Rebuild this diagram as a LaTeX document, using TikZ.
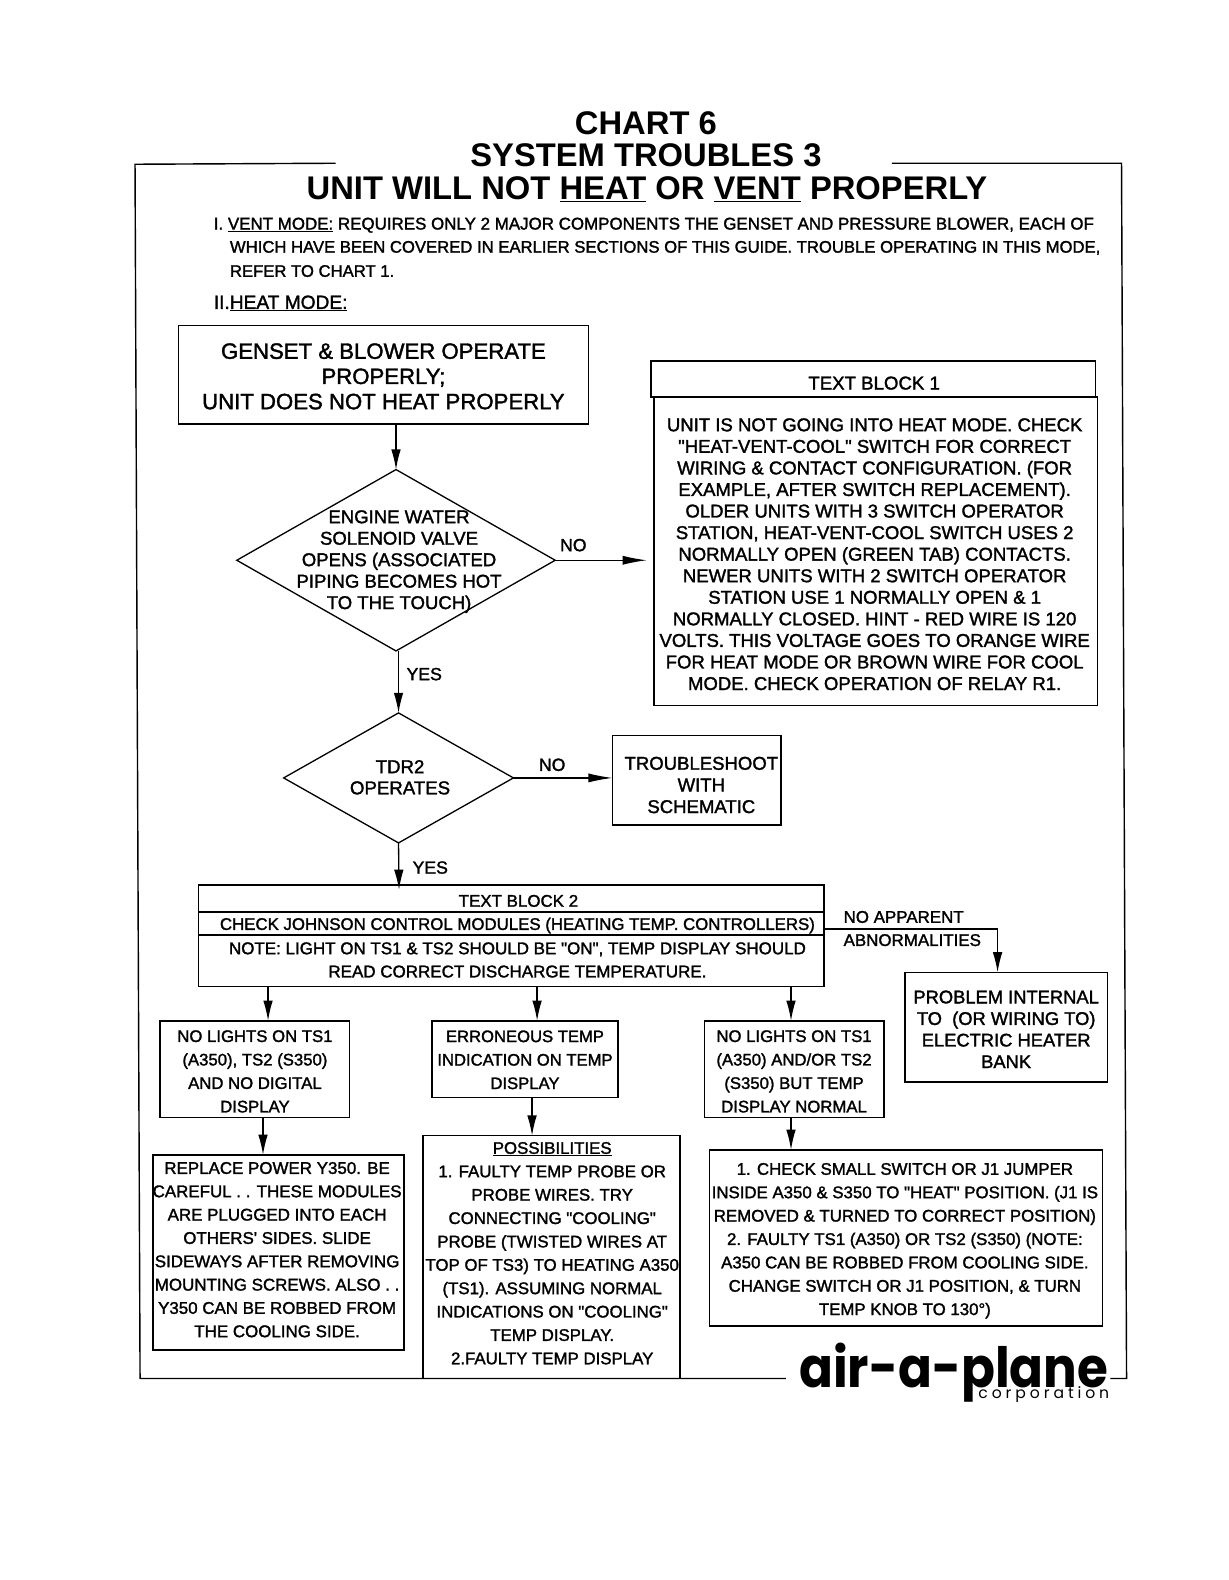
\documentclass[tikz,border=0pt]{standalone}
\usepackage{fontspec}
\usetikzlibrary{arrows.meta,shapes.geometric}
\setmainfont{Liberation Sans}[FakeBold=1.6,Ligatures=TeXOff]
\newfontfamily\titlef{Liberation Sans Bold}
\newfontfamily\logof{Poppins Bold}
\newfontfamily\corpf{Poppins}[LetterSpace=25]
\newsavebox\tbx
\newcommand\tb[5]{\fontsize{#3}{#4}\selectfont\sbox\tbx{\begin{tabular}[b]{@{}c@{}}#5\end{tabular}}\makebox[0pt][c]{\hspace*{\dimexpr 2\dimexpr#1\relax\relax}\raisebox{\dimexpr -#2-.5\ht\tbx+.5\dp\tbx-.14\dimexpr#3pt\relax\relax}[0pt][0pt]{\usebox\tbx}}}
\tikzset{
 boxn/.style={draw,line width=1.6pt,inner sep=0pt,outer sep=0pt},
 dia/.style={draw,diamond,line width=1.3pt,inner sep=0pt,outer sep=0pt},
 arr/.style={line width=1.3pt,-{Latex[length=20pt,width=9.5pt]},shorten >=0pt},
 arrlong/.style={line width=1.3pt,-{Latex[length=24pt,width=9pt]}},
 lab/.style={inner sep=0pt,font=\fontsize{17.5}{20}\selectfont},
 labl/.style={inner sep=0pt,anchor=west,font=\fontsize{16.8}{20}\selectfont},
 intro/.style={inner sep=0pt,anchor=west,font=\fontsize{16.8}{20}\selectfont},
 ttl/.style={inner sep=0pt,font=\titlef\fontsize{32.5}{36}\selectfont},
 frameline/.style={line width=1.4pt},
}
\begin{document}
\begin{tikzpicture}[x=1pt,y=-1pt]
\useasboundingbox (0,0) rectangle (1219,1568);
\fill[white] (0,0) rectangle (1219,1568);
% titles
\node[ttl] (t1) at (641,122) {CHART 6};
\node[ttl] (t2) at (641,154) {SYSTEM TROUBLES 3};
\node[ttl] (t3) at (642,188) {UNIT WILL NOT \underline{HEAT} OR \underline{VENT} PROPERLY};
% frame
\coordinate (fa) at (333,162); \coordinate (fb) at (134,163); \coordinate (fc) at (139,1368);
\coordinate (fd) at (780,1368); \coordinate (fe) at (885,162); \coordinate (ff) at (1113,162);
\coordinate (fg) at (1118,1368); \coordinate (fh) at (1102,1368);
\draw[frameline] (fa) -- (fb) -- (fc) -- (fd);
\draw[frameline] (fe) -- (ff) -- (fg) -- (fh);
% intro
\node[intro] (i1) at (212,223.5) {I. \underline{VENT MODE:} REQUIRES ONLY 2 MAJOR COMPONENTS THE GENSET AND PRESSURE BLOWER, EACH OF};
\node[intro,font=\fontsize{16.55}{20}\selectfont] (i2) at (228,246) {WHICH HAVE BEEN COVERED IN EARLIER SECTIONS OF THIS GUIDE. TROUBLE OPERATING IN THIS MODE,};
\node[intro,font=\fontsize{16.55}{20}\selectfont] (i3) at (228,269) {REFER TO CHART 1.};
\node[intro,font=\fontsize{19}{20}\selectfont] (i4) at (212,301) {II.\underline{HEAT MODE:}};
% boxes
\node[boxn,minimum width=407pt,minimum height=98pt] (a) at (380.5,372) {\tb{0pt}{1pt}{22}{25}{GENSET \& BLOWER OPERATE\\PROPERLY;\\UNIT DOES NOT HEAT PROPERLY}};
\node[boxn,minimum width=441pt,minimum height=36pt] (h1) at (866.5,376) {\tb{1pt}{4pt}{18.5}{20}{TEXT BLOCK 1}};
\node[boxn,minimum width=440pt,minimum height=306pt] (b1) at (869,547) {\tb{-1pt}{2.5pt}{18.4}{21.4}{UNIT IS NOT GOING INTO HEAT MODE. CHECK\\"HEAT-VENT-COOL" SWITCH FOR CORRECT\\WIRING \& CONTACT CONFIGURATION. (FOR\\EXAMPLE, AFTER SWITCH REPLACEMENT).\\OLDER UNITS WITH 3 SWITCH OPERATOR\\STATION, HEAT-VENT-COOL SWITCH USES 2\\NORMALLY OPEN (GREEN TAB) CONTACTS.\\NEWER UNITS WITH 2 SWITCH OPERATOR\\STATION USE 1 NORMALLY OPEN \& 1\\NORMALLY CLOSED. HINT - RED WIRE IS 120\\VOLTS. THIS VOLTAGE GOES TO ORANGE WIRE\\FOR HEAT MODE OR BROWN WIRE FOR COOL\\MODE. CHECK OPERATION OF RELAY R1.}};
\node[dia,minimum width=316pt,minimum height=180pt,aspect=1.756] (d1) at (393,556) {\tb{3pt}{-1pt}{18.4}{21.3}{ENGINE WATER\\SOLENOID VALVE\\OPENS (ASSOCIATED\\PIPING BECOMES HOT\\TO THE TOUCH)}};
\node[dia,minimum width=228pt,minimum height=129pt,aspect=1.767] (d2) at (395.5,772) {\tb{1.5pt}{-1pt}{18.5}{21}{TDR2\\OPERATES}};
\node[boxn,minimum width=167pt,minimum height=89pt] (c) at (691.5,774.5) {\tb{4.5pt}{4pt}{18.4}{21.5}{TROUBLESHOOT\\WITH\\SCHEMATIC}};
\node[boxn,minimum width=621pt,minimum height=27pt] (tba) at (507.5,891.5) {\tb{7pt}{2pt}{16.8}{20}{TEXT BLOCK 2}};
\node[boxn,minimum width=621pt,minimum height=23pt] (tbb) at (507.5,916.5) {\tb{6pt}{0pt}{16.7}{20}{CHECK JOHNSON CONTROL MODULES (HEATING TEMP. CONTROLLERS)}};
\node[boxn,minimum width=621pt,minimum height=51pt] (tbc) at (507.5,953.5) {\tb{6pt}{-2pt}{16.85}{23}{NOTE: LIGHT ON TS1 \& TS2 SHOULD BE "ON", TEMP DISPLAY SHOULD\\READ CORRECT DISCHARGE TEMPERATURE.}};
\node[boxn,minimum width=201pt,minimum height=109pt] (e) at (998.5,1019.5) {\tb{0pt}{1.5pt}{18.2}{21.4}{PROBLEM INTERNAL\\TO\ \ (OR WIRING TO)\\ELECTRIC HEATER\\BANK}};
\node[boxn,minimum width=188pt,minimum height=96pt] (f1) at (253,1061) {\tb{0pt}{1pt}{16.6}{23.3}{NO LIGHTS ON TS1\\(A350), TS2 (S350)\\AND NO DIGITAL\\DISPLAY}};
\node[boxn,minimum width=184pt,minimum height=76pt] (f2) at (521,1051) {\tb{0pt}{-.5pt}{16.5}{23.3}{ERRONEOUS TEMP\\INDICATION ON TEMP\\DISPLAY}};
\node[boxn,minimum width=178pt,minimum height=96pt] (f3) at (788,1061) {\tb{0pt}{1pt}{16.6}{23.3}{NO LIGHTS ON TS1\\(A350) AND/OR TS2\\(S350) BUT TEMP\\DISPLAY NORMAL}};
\node[boxn,minimum width=249pt,minimum height=194pt] (g1) at (276.5,1243) {\tb{-1.5pt}{-4pt}{16.8}{23.15}{REPLACE POWER Y350. BE\\CAREFUL . . THESE MODULES\\ARE PLUGGED INTO EACH\\OTHERS' SIDES. SLIDE\\SIDEWAYS AFTER REMOVING\\MOUNTING SCREWS. ALSO . .\\Y350 CAN BE ROBBED FROM\\THE COOLING SIDE.}};
\node[boxn,minimum width=255pt,minimum height=241pt] (g2) at (547.5,1247.5) {\tb{.5pt}{-5pt}{16.7}{23.2}{\underline{POSSIBILITIES}\\1. FAULTY TEMP PROBE OR\\PROBE WIRES. TRY\\CONNECTING "COOLING"\\PROBE (TWISTED WIRES AT\\TOP OF TS3) TO HEATING A350\\(TS1). ASSUMING NORMAL\\INDICATIONS ON "COOLING"\\TEMP DISPLAY.\\2.FAULTY TEMP DISPLAY}};
\node[boxn,minimum width=390pt,minimum height=175pt] (g3) at (899,1228.5) {\tb{-1pt}{0pt}{16.7}{23.2}{1. CHECK SMALL SWITCH OR J1 JUMPER\\INSIDE A350 \& S350 TO "HEAT" POSITION. (J1 IS\\REMOVED \& TURNED TO CORRECT POSITION)\\2. FAULTY TS1 (A350) OR TS2 (S350) (NOTE:\\A350 CAN BE ROBBED FROM COOLING SIDE.\\CHANGE SWITCH OR J1 POSITION, \& TURN\\TEMP KNOB TO 130°)}};
% labels
\node[lab] (n1) at (569,541) {NO};
\node[lab] (y1) at (421,669) {YES};
\node[lab] (n2) at (548,759) {NO};
\node[lab] (y2) at (427,861) {YES};
\node[labl] (na) at (837,910) {NO APPARENT};
\node[labl] (nb) at (837,933) {ABNORMALITIES};
% logo
\node[inner sep=0pt,anchor=base east] (logo) at (1100,1377) {\logof\scalebox{.855}[.95]{\fontsize{58}{60}\selectfont air-a-plane}};
\node[inner sep=0pt,anchor=base east] (corp) at (1101,1388) {\corpf\fontsize{15.5}{16}\selectfont corporation};
% connectors
\coordinate (p1) at (393,421);\coordinate (p2) at (393,466);
\draw[arr] (a.south -| p1) -- (d1.north -| p2);
\coordinate (p0) at (642,556);
\draw[arrlong] (d1.east) -- (p0);
\draw[arr] (d1.south -| d2.north) -- (d2.north);
\draw[arrlong] (d2.east) -- (c.west |- d2.east);
\coordinate (p3) at (396,883);
\draw[arr] (d2.south) -- (p3);
\coordinate (p4) at (266,0);\coordinate (p5) at (533,0);\coordinate (p6) at (785,0);\coordinate (p7) at (261,0);\coordinate (p8) at (528,0);
\draw[arr] (tbc.south -| p4) -- (f1.north -| p4);
\draw[arr] (tbc.south -| p5) -- (f2.north -| p5);
\draw[arr] (tbc.south -| p6) -- (f3.north -| p6);
\draw[arr] (f1.south -| p7) -- (g1.north -| p7);
\draw[arr] (f2.south -| p8) -- (g2.north -| p8);
\draw[arr] (f3.south -| p6) -- (g3.north -| p6);
\coordinate (p9) at (990,922);
\draw[arr] (tbb.east |- p9) -- (p9) -- (e.north -| p9);
\end{tikzpicture}
\end{document}
